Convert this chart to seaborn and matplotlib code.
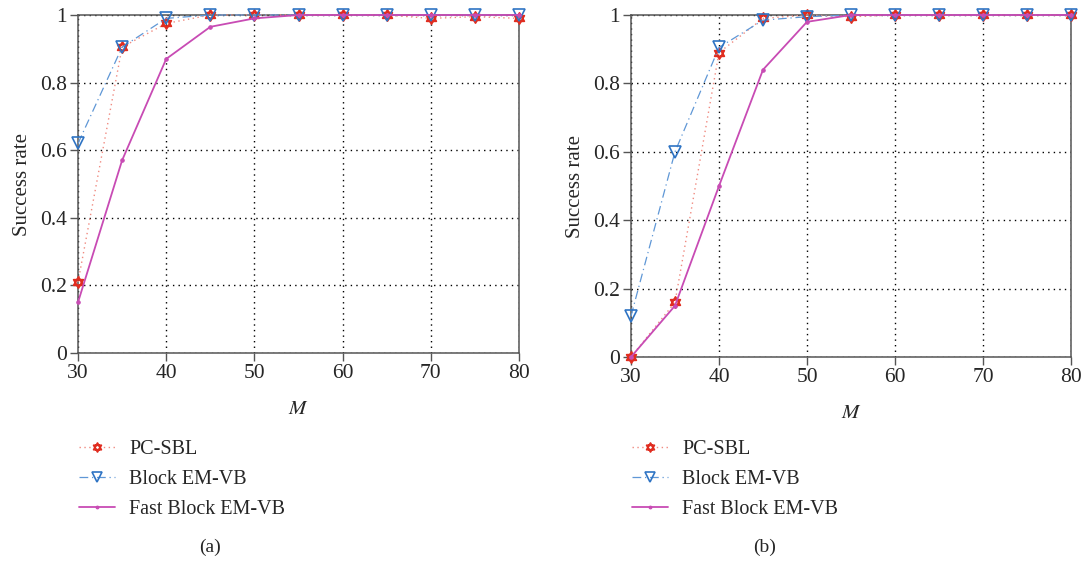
import matplotlib
matplotlib.use("Agg")
import matplotlib.pyplot as plt
from matplotlib.path import Path
from matplotlib.ticker import FuncFormatter
import numpy as np
import pandas as pd
import seaborn as sns

# Measurement counts M
m_values = [30, 35, 40, 45, 50, 55, 60, 65, 70, 75, 80]

# Panel (a) success rates
a_pc_sbl = [0.21, 0.905, 0.975, 1.0, 1.0, 1.0, 1.0, 1.0, 0.99, 0.995, 0.99]
a_block_emvb = [0.62, 0.905, 0.99, 1.0, 1.0, 1.0, 1.0, 1.0, 1.0, 1.0, 1.0]
a_fast_block_emvb = [0.15, 0.57, 0.87, 0.965, 0.99, 1.0, 1.0, 1.0, 1.0, 1.0, 1.0]

# Panel (b) success rates
b_pc_sbl = [0.0, 0.16, 0.89, 0.99, 1.0, 0.995, 1.0, 1.0, 1.0, 1.0, 1.0]
b_block_emvb = [0.12, 0.60, 0.905, 0.985, 0.995, 1.0, 1.0, 1.0, 1.0, 1.0, 1.0]
b_fast_block_emvb = [0.0, 0.15, 0.50, 0.84, 0.98, 1.0, 1.0, 1.0, 1.0, 1.0, 1.0]

method_names = ["PC-SBL", "Block EM-VB", "Fast Block EM-VB"]
panel_labels = ["(a)", "(b)"]

sns.set_theme(style="white")
plt.rcParams["font.family"] = ["Liberation Serif", "DejaVu Serif"]
plt.rcParams["mathtext.fontset"] = "stix"

# Six-pointed star (two overlapping triangles)
up = [(0, 1), (-0.866, -0.5), (0.866, -0.5), (0, 1)]
dn = [(0, -1), (-0.866, 0.5), (0.866, 0.5), (0, -1)]
hexagram = Path(up + dn,
                [Path.MOVETO, Path.LINETO, Path.LINETO, Path.CLOSEPOLY] * 2)

styles = {
    "PC-SBL": dict(color="#f08a80", linestyle=(0, (1, 2.5)), linewidth=1.0,
                   marker=hexagram, markersize=8, markerfacecolor="none",
                   markeredgecolor="#e02d20", markeredgewidth=1.3),
    "Block EM-VB": dict(color="#5f97d6", linestyle=(0, (7, 3, 1, 3)), linewidth=0.9,
                        marker="v", markersize=9, markerfacecolor="none",
                        markeredgecolor="#2f74c4", markeredgewidth=1.2),
    "Fast Block EM-VB": dict(color="#c84bb4", linestyle="-", linewidth=1.3,
                             marker="o", markersize=2.5, markerfacecolor="#c84bb4",
                             markeredgecolor="#c84bb4"),
}

panels = [
    (a_pc_sbl, a_block_emvb, a_fast_block_emvb),
    (b_pc_sbl, b_block_emvb, b_fast_block_emvb),
]

W, H = 1088, 561
fig = plt.figure(figsize=(W / 100, H / 100), dpi=100)
axes_px = [(78, 15, 519, 353), (631, 15, 1071, 357)]
legend_x = [75, 628]
caption_x = [210, 765]

fmt = FuncFormatter(lambda v, _: "0" if abs(v) < 1e-9 else ("1" if abs(v - 1) < 1e-9 else f"{v:.1f}"))

for (x0, y0, x1, y1), series, plab, lx, cx in zip(axes_px, panels, panel_labels,
                                                   legend_x, caption_x):
    ax = fig.add_axes([x0 / W, 1 - y1 / H, (x1 - x0) / W, (y1 - y0) / H])
    for name, vals in zip(method_names, series):
        df = pd.DataFrame({"M": m_values, "rate": vals})
        sns.lineplot(data=df, x="M", y="rate", ax=ax, label=name,
                     clip_on=False, zorder=3, **styles[name])
    ax.set_xlim(30, 80)
    ax.set_ylim(0, 1)
    ax.set_xticks(range(30, 81, 10))
    ax.set_yticks(np.arange(0, 1.01, 0.2))
    ax.yaxis.set_major_formatter(fmt)
    ax.grid(True, linestyle=(0, (1, 3)), color="black", linewidth=1.0)
    for sp in ax.spines.values():
        sp.set_visible(True)
        sp.set_color("#555555")
        sp.set_linewidth(1.1)
    ax.tick_params(axis="both", direction="out", length=6, width=1.0,
                   color="#555555", labelsize=15.5, pad=2,
                   bottom=True, left=True)
    ax.set_xlabel("$M$", fontsize=15, labelpad=12)
    ax.set_ylabel("Success rate", fontsize=15, labelpad=6)
    handles, labels = ax.get_legend_handles_labels()
    ax.get_legend().remove()
    fig.legend(handles, labels, loc="upper left",
               bbox_to_anchor=(lx / W, 1 - 436 / H),
               frameon=False, fontsize=14.5, handlelength=1.8,
               handletextpad=0.7, labelspacing=0.55, borderaxespad=0,
               borderpad=0.2, markerscale=0.8)
    fig.text(cx / W, 1 - 547 / H, plab, ha="center", va="center", fontsize=14)

fig.savefig("out.png", dpi=100)
